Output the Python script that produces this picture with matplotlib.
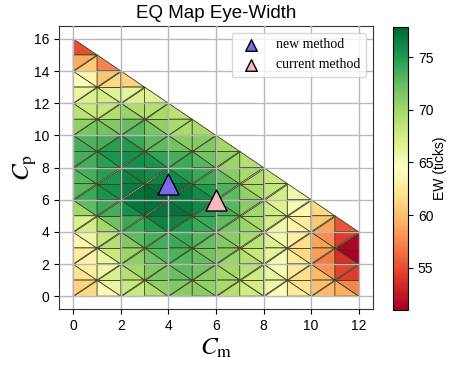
import numpy as np
import matplotlib
matplotlib.use("Agg")
import matplotlib.pyplot as plt
import matplotlib.tri as mtri

plt.rcParams['font.family'] = ['Liberation Sans', 'DejaVu Sans']
plt.rcParams['mathtext.fontset'] = 'stix'

# EW (ticks) at each (Cm, Cp) grid point, one row per Cp value (16 down to 0),
# columns are Cm = 0, 1, 2, ... (only points with Cm + Cp <= 16)
cp_values = list(range(16, -1, -1))
ew_rows = [
    [50],
    [58, 57],
    [62, 63, 52],
    [65, 66, 66, 65],
    [67, 68, 68, 68, 67],
    [70, 69, 71, 72, 70, 69],
    [73, 73, 74, 73, 70, 70, 70],
    [74, 74, 76, 75, 73, 73, 71, 69],
    [73, 74, 76, 76, 75, 74, 72, 70, 68],
    [72, 74, 76, 77, 77, 76, 74, 71, 69, 67],
    [73, 75, 77, 78, 78, 77, 75, 72, 69, 66, 64],
    [67, 70, 74, 76, 78, 76, 74, 72, 69, 65, 62, 58],
    [64, 68, 72, 74, 75, 74, 72, 71, 68, 64, 61, 57, 51],
    [62, 65, 70, 72, 74, 73, 72, 70, 68, 64, 60, 55, 48],
    [61, 64, 69, 71, 73, 73, 71, 70, 67, 64, 60, 56, 50],
    [61, 64, 68, 70, 72, 72, 70, 69, 67, 64, 61, 58, 55],
    [58, 62, 66, 68, 70, 71, 70, 68, 66, 63, 61, 60, 59],
]

new_method = (4, 7)
current_method = (6, 6)

cm_pts, cp_pts, ew_pts = [], [], []
idx = {}
for cp, row in zip(cp_values, ew_rows):
    for cm, ew in enumerate(row):
        idx[(cm, cp)] = len(cm_pts)
        cm_pts.append(cm)
        cp_pts.append(cp)
        ew_pts.append(ew)

# split each grid cell in two, alternating the diagonal like a checkerboard
triangles = []
for (i, j) in idx:
    if (i + 1, j) not in idx or (i, j + 1) not in idx:
        continue
    a, b, d = idx[(i, j)], idx[(i + 1, j)], idx[(i, j + 1)]
    c = idx.get((i + 1, j + 1))
    if c is None:
        triangles.append([a, b, d])
    elif (i + j) % 2 == 0:
        triangles += [[a, b, c], [a, c, d]]
    else:
        triangles += [[a, b, d], [b, c, d]]

fig = plt.figure(figsize=(4.52, 3.71), dpi=100)
ax = fig.add_axes([0.1305, 0.167, 0.6945, 0.763])
cax = fig.add_axes([0.869, 0.165, 0.034, 0.763])

tri = mtri.Triangulation(np.array(cm_pts, float), np.array(cp_pts, float), triangles)
tpc = ax.tripcolor(tri, np.array(ew_pts, float), cmap='RdYlGn', vmin=51, vmax=77.9,
                   edgecolors='#3a402080', linewidth=0.6)

ax.scatter([new_method[0]], [new_method[1]], marker='^', s=230, c='#7b68ee',
           edgecolors='k', linewidths=1.0, zorder=5, label='new method')
ax.scatter([current_method[0]], [current_method[1]], marker='^', s=230, c='#f4b8c0',
           edgecolors='k', linewidths=1.0, zorder=5, label='current method')

ax.set_xticks(range(0, 13, 2))
ax.set_yticks(range(0, 17, 2))
ax.grid(True, color='#b8b8b8', linewidth=1.0, zorder=3)
ax.set_axisbelow(False)
ax.tick_params(labelsize=10)
for s in ax.spines.values():
    s.set_color('#333333')

ax.set_title('EQ Map Eye-Width', fontsize=13.5)
ax.set_xlabel(r'$C_{\mathrm{m}}$', fontsize=18, labelpad=2)
ax.set_ylabel(r'$C_{\mathrm{p}}$', fontsize=18, labelpad=-4)

ax.legend(loc='upper right', markerscale=0.55,
          prop={'family': ['Liberation Serif', 'DejaVu Serif'], 'size': 10})

cb = fig.colorbar(tpc, cax=cax)
cb.set_ticks([55, 60, 65, 70, 75])
cb.ax.tick_params(labelsize=10)
cb.set_label('EW (ticks)', fontsize=10, labelpad=0)

fig.savefig('out.png', dpi=100)
